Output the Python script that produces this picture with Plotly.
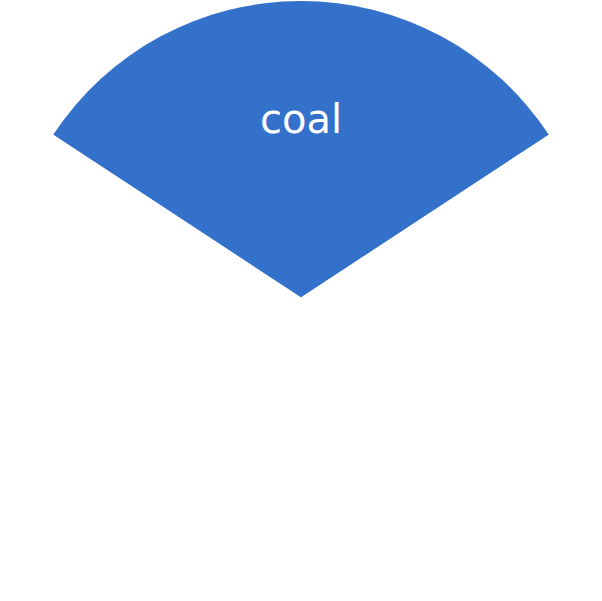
import plotly.graph_objects as go

# slice shares (coal spans ~113 degrees)
labels = ["coal", "other"]
values = [31.5, 68.5]
slice_text = ["coal", ""]
colors = ["#3471CA", "#FFFFFF"]

coal_share = values[0] / sum(values)

fig = go.Figure(go.Pie(
    labels=labels,
    values=values,
    text=slice_text,
    textinfo="text",
    sort=False,
    direction="clockwise",
    rotation=-coal_share * 180,
    insidetextorientation="tangential",
    marker=dict(colors=colors, line=dict(width=0)),
    textfont=dict(family="DejaVu Sans", size=40, color="white"),
    hoverinfo="label+percent",
    showlegend=False,
))

fig.update_layout(
    width=602,
    height=601,
    margin=dict(l=4, r=4, t=1, b=7),
    paper_bgcolor="white",
    showlegend=False,
)

# page body margin would push the figure 8px down/right
fig.write_html("out.html", config={"displayModeBar": False},
               post_script="document.body.style.margin = '0';")
